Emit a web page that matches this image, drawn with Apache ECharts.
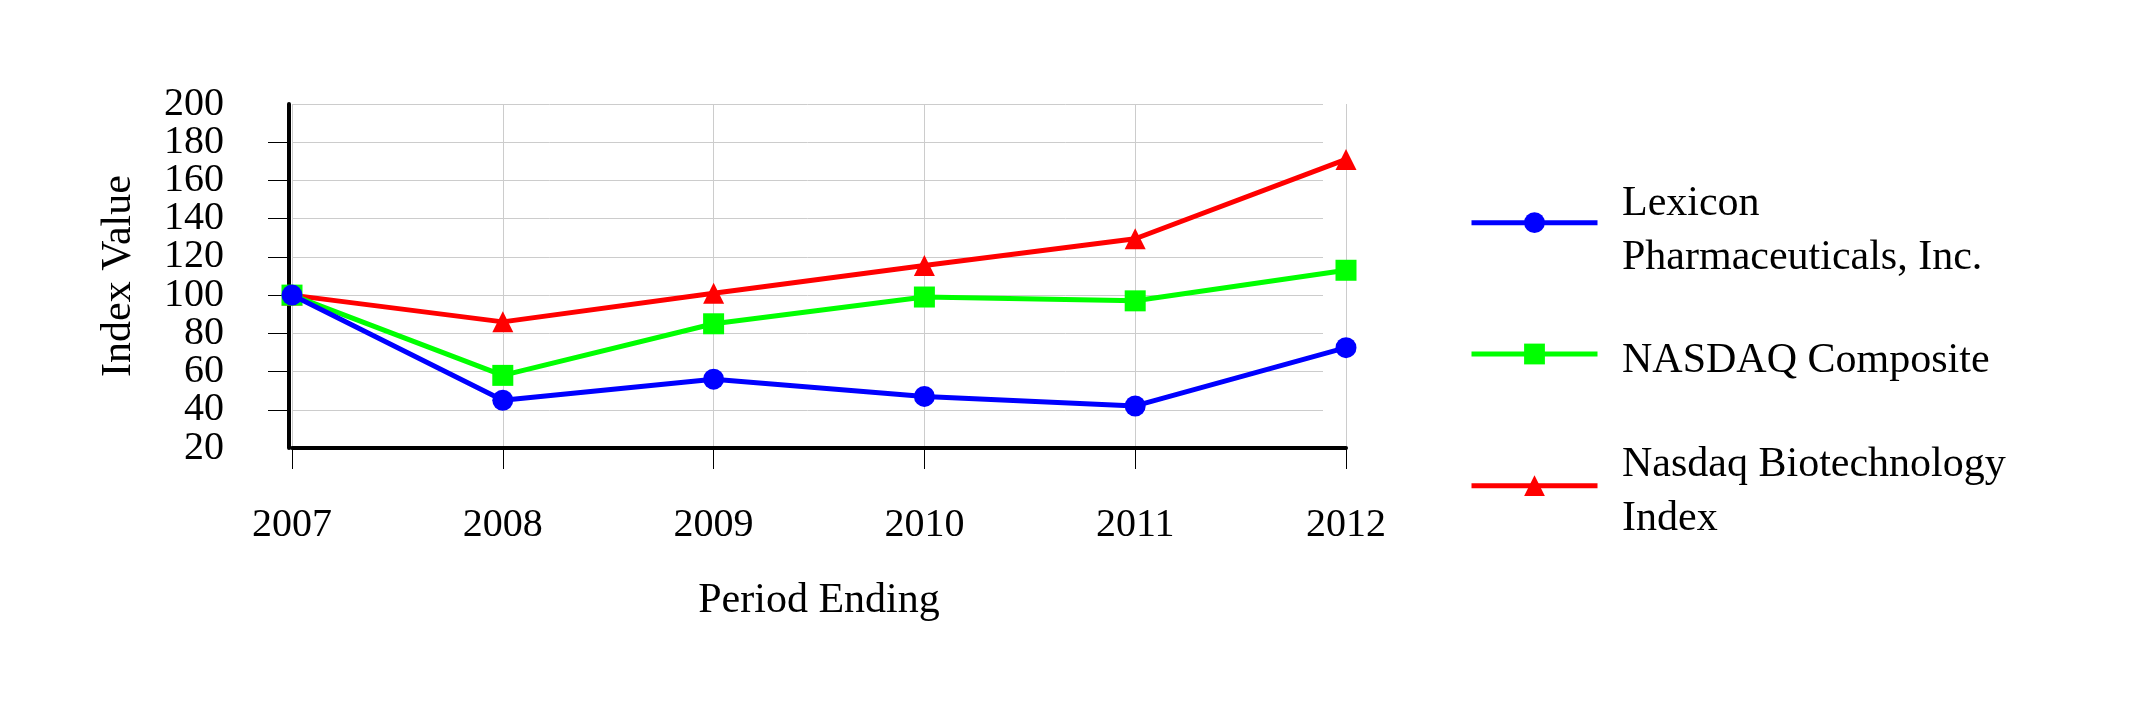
<!DOCTYPE html>
<html>
<head>
<meta charset="utf-8">
<script src="https://cdn.jsdelivr.net/npm/echarts@6/dist/echarts.min.js"></script>
<style>
html,body{margin:0;padding:0;background:#fff;}
#chart{width:2133px;height:708px;}
</style>
</head>
<body>
<div id="chart"></div>
<script>
const years = ['2007', '2008', '2009', '2010', '2011', '2012'];
const seriesNames = ['Lexicon Pharmaceuticals, Inc.', 'NASDAQ Composite', 'Nasdaq Biotechnology Index'];
const legendLabels = ['Lexicon\nPharmaceuticals, Inc.', 'NASDAQ Composite', 'Nasdaq Biotechnology\nIndex'];
const lexicon = [100, 45, 56, 47, 42, 72.5];
const nasdaqComposite = [100, 58, 85, 99, 97, 113];
const nasdaqBiotech = [100, 86, 101, 115.5, 129.5, 171];
const yMin = 20, yMax = 200, yStep = 20;

const colors = ['#0000ff', '#00ff00', '#ff0000'];
const symbols = ['circle', 'rect', 'triangle'];
const values = [lexicon, nasdaqComposite, nasdaqBiotech];
const FONT = 'Liberation Serif';

const chart = echarts.init(document.getElementById('chart'), null, {renderer: 'canvas'});

// icon-only legends
const iconTops = [212.3, 343.6, 475.3];
const iconLegends = seriesNames.map((n, i) => ({
  data: [n],
  orient: 'vertical',
  left: 1469,
  top: iconTops[i],
  padding: 0,
  itemWidth: 126,
  itemHeight: 26,
  selectedMode: false,
  formatter: () => '',
  lineStyle: {width: 5},
  textStyle: {fontSize: 1, lineHeight: 1}
}));
// text-only legends
const textTops = [177.5, 334.5, 438.5];
const textLegends = seriesNames.map((n, i) => ({
  data: [n],
  orient: 'vertical',
  left: 1615,
  top: textTops[i],
  padding: 0,
  itemWidth: 1,
  itemHeight: 1,
  selectedMode: false,
  formatter: (name) => legendLabels[seriesNames.indexOf(name)],
  itemStyle: {opacity: 0},
  lineStyle: {opacity: 0},
  textStyle: {fontFamily: FONT, fontSize: 42, lineHeight: 53.5, color: '#000'}
}));

const labelStyle = {fontFamily: FONT, fontSize: 40, lineHeight: 20, color: '#000', margin: 65, padding: [6, 0, 0, 0]};
const gridBox = {top: 104, bottom: 708 - 448, containLabel: false};

const option = {
  backgroundColor: '#fff',
  animation: false,
  legend: iconLegends.concat(textLegends),
  grid: [
    Object.assign({left: 292, right: 2133 - 1346}, gridBox),
    Object.assign({left: 292, right: 2133 - 1323}, gridBox),
    Object.assign({left: 292, right: 2133 - 1346}, gridBox)
  ],
  xAxis: [
    {
      type: 'category', gridIndex: 0, data: years, boundaryGap: false,
      name: 'Period Ending', nameLocation: 'middle', nameGap: 132,
      nameTextStyle: {fontFamily: FONT, fontSize: 42, color: '#000'},
      axisLine: {show: true, lineStyle: {color: '#000', width: 4}},
      axisTick: {show: true, length: 21, lineStyle: {color: '#000', width: 1}},
      axisLabel: {fontFamily: FONT, fontSize: 40, color: '#000', margin: 57, interval: 0, hideOverlap: false},
      splitLine: {show: true, lineStyle: {color: '#cccccc', width: 1}}
    },
    {type: 'category', gridIndex: 1, data: years, boundaryGap: false, show: false},
    {type: 'category', gridIndex: 2, data: years, boundaryGap: false, show: false}
  ],
  yAxis: [
    {
      type: 'value', gridIndex: 0, min: yMin, max: yMax, interval: yStep, offset: 3,
      name: 'Index Value', nameLocation: 'middle', nameGap: 149,
      nameTextStyle: {fontFamily: FONT, fontSize: 42, color: '#000'},
      axisLine: {show: true, lineStyle: {color: '#000', width: 4}},
      axisTick: {show: true, length: 21, lineStyle: {color: '#000', width: 1}},
      axisLabel: Object.assign({showMinLabel: false, showMaxLabel: false}, labelStyle),
      splitLine: {show: false}
    },
    {
      type: 'value', gridIndex: 1, min: yMin, max: yMax, interval: yStep,
      axisLine: {show: false}, axisTick: {show: false}, axisLabel: {show: false},
      splitLine: {show: true, lineStyle: {color: '#cccccc', width: 1}}
    },
    {
      // carries only the end labels (20 and 200)
      type: 'value', gridIndex: 2, min: yMin, max: yMax, interval: yMax - yMin, offset: 3,
      axisLine: {show: false}, axisTick: {show: false},
      axisLabel: Object.assign({showMinLabel: true, showMaxLabel: true}, labelStyle),
      splitLine: {show: false}
    }
  ],
  series: seriesNames.map((n, i) => ({
    name: n,
    type: 'line',
    xAxisIndex: 0, yAxisIndex: 0,
    data: values[i],
    symbol: symbols[i],
    symbolSize: 21,
    z: 5 - i,
    color: colors[i],
    lineStyle: {color: colors[i], width: 5},
    itemStyle: {color: colors[i]}
  }))
};
chart.setOption(option);
</script>
</body>
</html>
